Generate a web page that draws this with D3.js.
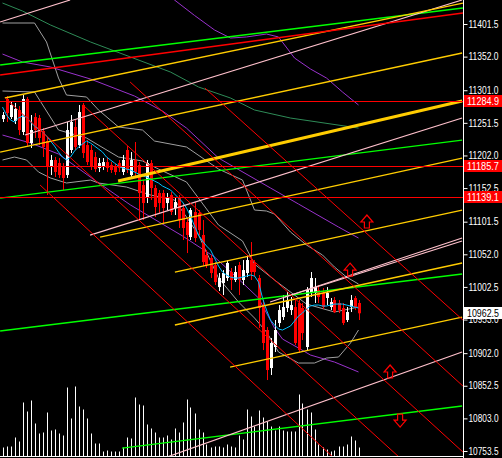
<!DOCTYPE html>
<html><head><meta charset="utf-8">
<script src="https://cdnjs.cloudflare.com/ajax/libs/d3/7.8.5/d3.min.js"></script>
<style>html,body{margin:0;padding:0;background:#000;overflow:hidden}</style>
</head><body><svg id="c" width="502" height="458"></svg>
<script>
// ---------- DATA ----------
const openP  = [11257.3,11287.7,11260.3,11254.3,11271.0,11237.6,11287.7,11220.9,11260.3,11258.8,11239.1,11223.9,11184.5,11195.1,11190.5,11184.5,11172.3,11210.3,11245.2,11217.8,11278.6,11217.8,11210.3,11199.6,11182.9,11184.5,11192.0,11187.5,11184.5,11190.5,11176.9,11210.3,11172.3,11195.1,11187.5,11157.1,11138.9,11190.5,11152.6,11145.0,11145.0,11129.8,11142.0,11122.2,11137.4,11122.2,11101.0,11078.2,11116.2,11114.7,11081.3,11050.9,11046.4,11035.7,11002.3,11008.4,11016.0,11025.1,11013.0,11035.7,11013.0,11023.6,11043.3,11038.8,11016.0,10972.0,10937.1,10879.4,10911.3,10947.7,10956.8,10970.5,10967.4,10972.0,10978.1,10970.5,10911.3,10993.2,10993.2,10997.8,10993.2,10985.7,10972.0,10982.6,10978.1,10970.5,10952.3,10972.0,10985.7,10978.1];
const highP  = [11267.9,11292.2,11284.6,11281.6,11277.0,11293.7,11290.7,11263.4,11266.4,11263.4,11243.6,11230.0,11202.7,11199.6,11198.1,11190.5,11252.8,11263.4,11255.8,11278.6,11281.6,11225.4,11217.8,11207.2,11198.1,11198.1,11199.6,11192.0,11189.0,11195.1,11202.7,11216.3,11207.2,11222.4,11192.0,11164.7,11195.1,11195.1,11157.1,11149.6,11149.6,11145.0,11146.5,11137.4,11142.0,11129.8,11107.1,11122.2,11131.3,11119.2,11104.0,11058.5,11050.9,11040.3,11023.6,11028.1,11043.3,11031.2,11034.2,11040.3,11043.3,11050.9,11070.6,11043.3,11020.6,10982.6,10941.6,10924.9,10952.3,10975.0,10990.2,10994.8,10987.2,10982.6,10982.6,10978.1,11002.3,11025.1,11016.0,11005.4,11000.8,11002.3,10985.7,10987.2,10982.6,10978.1,10972.0,10990.2,10988.7,10982.6];
const lowP   = [11252.8,11252.8,11257.3,11249.7,11233.0,11233.0,11216.3,11213.3,11228.5,11217.8,11199.6,11142.0,11172.3,11169.3,11167.8,11149.6,11167.8,11205.7,11210.3,11213.3,11198.1,11187.5,11179.9,11176.9,11176.9,11179.9,11176.9,11175.4,11172.3,11176.9,11172.3,11175.4,11167.8,11170.8,11104.0,11104.0,11129.8,11134.4,11108.6,11114.7,11099.5,11119.2,11111.6,11111.6,11091.9,11073.7,11053.9,11073.7,11070.6,11081.3,11034.2,11031.2,11016.0,11005.4,10996.3,10990.2,11011.5,10997.8,11009.9,10990.2,11005.4,11017.5,11013.0,11019.0,10940.1,10906.7,10861.2,10868.8,10903.7,10941.6,10952.3,10964.4,10959.9,10914.3,10902.2,10921.9,10906.7,10987.2,10978.1,10978.1,10969.0,10975.0,10967.4,10962.9,10962.9,10944.7,10949.2,10964.4,10967.4,10952.3];
const closeP = [11263.4,11266.4,11278.6,11272.5,11240.6,11287.7,11220.9,11240.6,11240.6,11228.5,11214.8,11184.5,11195.1,11176.9,11172.3,11167.8,11240.6,11252.8,11214.8,11267.9,11205.7,11192.0,11186.0,11181.4,11190.5,11192.0,11182.9,11179.9,11176.9,11182.9,11195.1,11179.9,11195.1,11176.9,11145.0,11129.8,11190.5,11152.6,11123.8,11129.8,11122.2,11137.4,11116.2,11131.3,11104.0,11091.9,11081.3,11119.2,11076.7,11088.9,11040.3,11035.7,11023.6,11009.9,11016.0,11023.6,11038.8,11013.0,11025.1,11013.0,11028.1,11043.3,11025.1,11025.1,10970.5,10917.4,10876.4,10917.4,10937.1,10967.4,10972.0,10982.6,10975.0,10917.4,10906.7,10932.5,10997.8,11016.0,11002.3,10987.2,10972.0,10993.2,10979.6,10964.4,10967.4,10947.7,10964.4,10982.6,10972.0,10962.5];
const volume = [9,10,10,19,15,54,45,56,33,23,24,44,26,27,23,21,69,38,70,50,47,38,23,13,13,5,6,5,5,5,9,19,18,59,52,51,32,28,24,19,19,21,17,28,24,34,57,49,43,27,24,12,9,10,10,9,12,10,9,21,17,47,40,30,46,39,35,30,26,30,26,25,25,25,62,53,47,44,27,12,9,7,5,6,10,10,12,20,16,9];

// indicator curves: [bar, price]
const maFast = [[0,11275.5],[1,11263.4],[2,11255.8],[3,11252.8],[4,11258.8],[5,11261.9],[6,11260.3],[7,11252.8],[8,11246.7],[9,11242.1],[10,11237.6],[11,11231.5],[12,11223.9],[13,11216.3],[14,11207.2],[15,11199.6],[16,11195.1],[17,11199.6],[18,11208.7],[19,11214.8],[20,11219.4],[21,11223.9],[22,11220.9],[23,11216.3],[24,11211.8],[25,11207.2],[26,11199.6],[27,11195.1],[28,11190.5],[29,11186.0],[30,11182.9],[31,11181.4],[32,11179.9],[33,11176.9],[34,11173.8],[35,11170.8],[36,11169.3],[37,11166.2],[38,11163.2],[39,11160.2],[40,11155.6],[41,11152.6],[42,11149.6],[43,11143.5],[44,11137.4],[45,11131.3],[46,11122.2],[47,11110.1],[48,11094.9],[49,11081.3],[50,11072.2],[51,11064.6],[52,11058.5],[53,11046.4],[54,11034.2],[55,11025.1],[56,11020.6],[57,11017.5],[58,11016.0],[59,11016.0],[60,11017.5],[61,11019.0],[62,11020.6],[63,11019.0],[64,11009.9],[65,10985.7],[66,10967.4],[67,10952.3],[68,10944.7],[69,10938.6],[70,10937.1],[71,10940.1],[72,10943.2],[73,10950.7],[74,10958.3],[75,10962.9],[76,10969.0],[77,10973.5],[78,10975.0],[79,10975.0],[80,10973.5],[81,10973.5],[82,10975.0],[83,10976.5],[84,10976.5],[85,10976.5],[86,10975.0],[87,10973.5],[88,10972.0],[89,10970.5]];
const bandUpper = [[0,11403.0],[8,11403.0],[11,11374.2],[14,11319.5],[16,11293.7],[21,11290.7],[24,11271.0],[29,11245.2],[35,11240.6],[38,11223.9],[46,11214.8],[54,11181.4],[60,11164.7],[63,11119.2],[66,11117.7],[68,11113.1],[72,11085.8],[76,11066.1],[80,11050.9],[83,11032.7],[86,11017.5],[89,11006.9]];
const bandMid = [[0,11299.8],[8,11298.3],[14,11240.6],[21,11228.5],[29,11199.6],[35,11193.6],[39,11181.4],[46,11161.7],[54,11096.4],[60,11072.2],[63,11037.2],[68,11013.0],[76,10976.5],[83,10964.4],[89,10972.0]];
const bandLower = [[0,11195.1],[3,11199.6],[6,11195.1],[9,11176.9],[12,11167.8],[16,11160.2],[22,11164.7],[24,11160.2],[31,11154.1],[37,11142.0],[43,11134.4],[46,11108.6],[49,11081.3],[54,11016.0],[59,10979.6],[63,10955.3],[66,10934.1],[69,10903.7],[74,10887.0],[78,10887.0],[81,10894.6],[84,10896.1],[87,10917.4],[89,10937.1]];
const maSlow = [[0,11433.3],[5,11421.2],[12,11400.0],[22,11374.2],[32,11351.4],[42,11328.6],[49,11305.9],[57,11289.2],[63,11271.0],[72,11258.8],[89,11243.6]];
const envTop = [[38,11468.3],[43,11437.9],[48,11414.5],[53,11392.4],[57,11380.2],[61,11381.8],[66,11386.3],[69,11381.8],[73,11349.9],[77,11333.2],[81,11319.5],[85,11298.3],[89,11278.6]];
const envMid = [[0,11355.9],[5,11343.8],[12,11336.2],[22,11318.0],[33,11292.2],[40,11269.4],[46,11243.6],[54,11198.1],[67,11152.6],[74,11128.3],[84,11093.4],[89,11076.7]];
const envLow = [[0,11233.0],[7,11220.9],[14,11204.2],[23,11164.7],[32,11126.8],[45,11079.8],[53,11047.9],[59,11014.5],[64,10985.7],[68,10940.1],[70,10923.4],[74,10909.8],[77,10899.1],[83,10888.5],[89,10873.4]];

// trend lines: [bar1, price1, bar2, price2]
const redFalling = [[31.9,11313.5,115.1,10852.1],[20.1,11278.6,115.1,10752.0],[0.6,11289.2,99.4,10742.8],[9.4,11157.1,82.6,10744.3],[50.6,11304.3,115.1,10952.3]];
const redRising  = [[-0.6,11324.1,115.1,11418.2]];
const goldLines  = [[0.6,11289.2,115.1,11433.3],[-0.6,11207.2,114.9,11357.5],[24.4,11078.2,114.9,11198.1],[43.1,11025.1,114.9,11119.2],[43.1,10944.7,114.9,11038.8],[56.9,10880.9,114.9,10956.8]];
const goldThick  = [[28.9,11163.2,114.9,11284.6]];
const pinkLines  = [[-0.6,11404.5,16.9,11437.9],[5.6,11233.0,114.9,11437.9],[21.9,11081.2,114.9,11258.8],[66.9,10979.6,114.9,11076.7],[70.6,10987.2,114.9,11072.2],[41.1,10744.3,114.9,10903.7]];
const greenLines = [[-0.6,11339.3,115.1,11425.8],[-0.6,11137.4,114.9,11225.4],[-0.6,10935.6,114.9,11022.1],[29.9,10758.0,114.9,10821.8]];
const hLevels = [11284.9, 11185.7, 11139.1];
const lastPrice = 10962.5;
const arrowsUp = [[91.1,11101.0],[86.9,11028.1],[96.9,10873.4]];
const arrowsDown = [[99.4,10800.5]];
const tickValues = [11401.5,11352.0,11301.0,11251.5,11202.0,11152.5,11101.5,11052.0,11002.5,10953.0,10902.0,10852.5,10803.0,10753.5];

// ---------- DRAW ----------
const W = 502, H = 458, plotR = 463, baseY = 456.5;
const FONT = 'Liberation Sans, Arial, sans-serif';
const svg = d3.select('#c');
svg.append('rect').attr('width',W).attr('height',H).attr('fill','#000');
const x = d3.scaleLinear().domain([0,89]).range([2.5,358.5]);
const y = d3.scaleLinear().domain([10753.5,11401.5]).range([451,24]);
const vy = d3.scaleLinear().domain([0,100]).range([baseY, baseY-100]);

svg.append('defs').append('clipPath').attr('id','clip')
  .append('rect').attr('x',0).attr('y',0).attr('width',plotR).attr('height',baseY);
const g = svg.append('g').attr('clip-path','url(#clip)');

// volume
g.append('g').selectAll('line').data(volume).join('line')
  .attr('x1',(d,i)=>Math.round(x(i))+0.5).attr('x2',(d,i)=>Math.round(x(i))+0.5)
  .attr('y1',baseY).attr('y2',d=>vy(d))
  .attr('stroke','#fff').attr('stroke-width',1);

// indicator curves
const line = d3.line().x(d=>x(d[0])).y(d=>y(d[1]));
const curves = [
  [maSlow,'#2e8b57'],[envTop,'#9932cc'],[envMid,'#9932cc'],[envLow,'#9932cc'],
  [bandUpper,'#a0a0a0'],[bandMid,'#a0a0a0'],[bandLower,'#a0a0a0']
];
curves.forEach(([d,c])=>g.append('path').datum(d).attr('d',line).attr('fill','none').attr('stroke',c).attr('stroke-width',1));

// candles
const idx = d3.range(openP.length);
const cg = g.append('g');
idx.forEach(i=>{
  const up = closeP[i] >= openP[i];
  const col = up ? '#ffffff' : '#ff0000';
  const cx = Math.round(x(i))+0.5;
  cg.append('line').attr('x1',cx).attr('x2',cx).attr('y1',y(highP[i])).attr('y2',y(lowP[i])).attr('stroke',col);
  const top = y(Math.max(openP[i],closeP[i])), bot = y(Math.min(openP[i],closeP[i]));
  cg.append('rect').attr('x',cx-1.5).attr('y',top).attr('width',3).attr('height',Math.max(1,bot-top)).attr('fill',col);
});

g.append('path').datum(maFast).attr('d',line).attr('fill','none').attr('stroke','#00bfff').attr('stroke-width',1);

// trend lines
function seg(arr,color,w){
  g.append('g').selectAll('line').data(arr).join('line')
    .attr('x1',d=>x(d[0])).attr('y1',d=>y(d[1])).attr('x2',d=>x(d[2])).attr('y2',d=>y(d[3]))
    .attr('stroke',color).attr('stroke-width',w);
}
seg(greenLines,'#00ff00',1.3);
seg(pinkLines,'#ffc0cb',1.2);
seg(goldLines,'#ffcc00',1.3);
seg(goldThick,'#ffcc00',3);
seg(redRising,'#ff0000',1.3);
seg(redFalling,'#ff0000',1);

// horizontal levels
g.append('g').selectAll('line').data(hLevels).join('line')
  .attr('x1',0).attr('x2',plotR).attr('y1',d=>Math.round(y(d))+0.5).attr('y2',d=>Math.round(y(d))+0.5)
  .attr('stroke','#ff0000').attr('stroke-width',1);

// arrows
const upPath = 'M-6,0 L0,-7 L6,0 L2.5,0 L2.5,6 L-2.5,6 L-2.5,0 Z';
g.append('g').selectAll('path').data(arrowsUp).join('path')
  .attr('d',upPath).attr('transform',d=>`translate(${x(d[0])},${y(d[1])})`)
  .attr('fill','none').attr('stroke','#ff0000').attr('stroke-width',1.2);
g.append('g').selectAll('path').data(arrowsDown).join('path')
  .attr('d',upPath).attr('transform',d=>`translate(${x(d[0])},${y(d[1])}) scale(1,-1)`)
  .attr('fill','none').attr('stroke','#ff0000').attr('stroke-width',1.2);

// axes frame
svg.append('line').attr('x1',plotR+0.5).attr('x2',plotR+0.5).attr('y1',0).attr('y2',H).attr('stroke','#fff');
svg.append('line').attr('x1',0).attr('x2',plotR).attr('y1',baseY).attr('y2',baseY).attr('stroke','#fff');

const axis = d3.axisRight(y).tickValues(tickValues).tickFormat(d3.format('.1f')).tickSize(4).tickPadding(1);
const ag = svg.append('g').attr('transform',`translate(${plotR+0.5},0)`).call(axis);
ag.select('.domain').remove();
ag.selectAll('.tick line').attr('stroke','#fff');
ag.selectAll('.tick text').attr('fill','#fff').attr('font-family',FONT).attr('font-size','10px')
  .attr('textLength',30).attr('lengthAdjust','spacingAndGlyphs');

// price labels
const lbl = svg.append('g');
hLevels.concat([lastPrice]).forEach(v=>{
  const isLast = v===lastPrice;
  const yy = Math.round(y(v));
  lbl.append('rect').attr('x',plotR+1).attr('y',yy-6).attr('width',W-plotR-1).attr('height',12)
    .attr('fill',isLast?'#fff':'#ff0000');
  lbl.append('text').attr('x',plotR+4).attr('y',yy+4).text(d3.format('.1f')(v))
    .attr('fill',isLast?'#000':'#fff').attr('font-family',FONT).attr('font-size','10px')
    .attr('textLength',32).attr('lengthAdjust','spacingAndGlyphs');
});
</script></body></html>
